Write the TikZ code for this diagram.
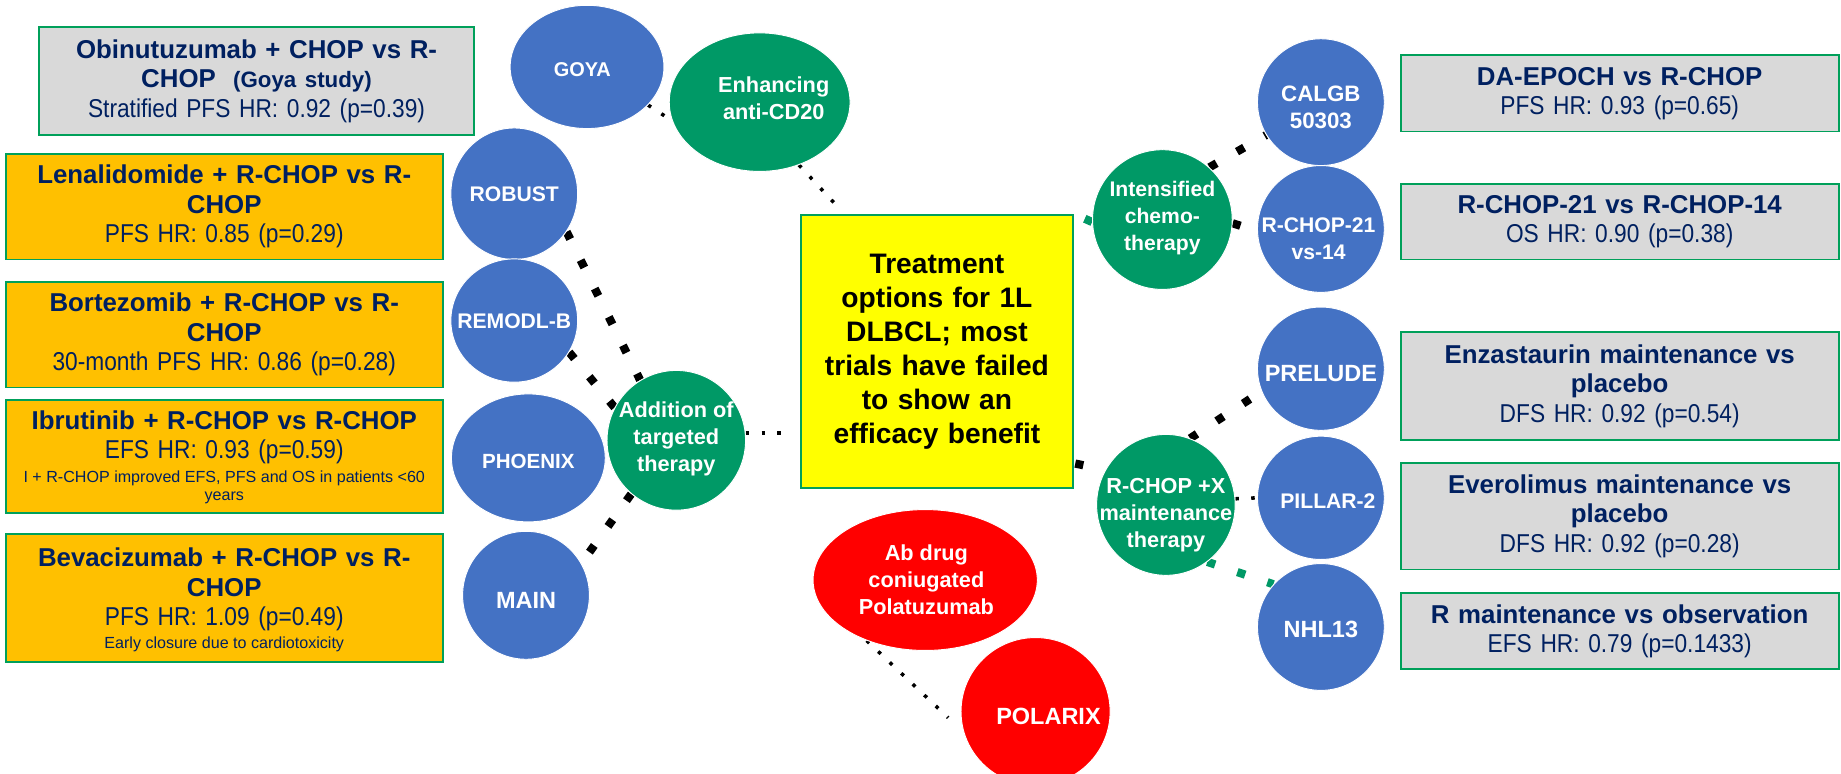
\documentclass[tikz,border=0pt]{standalone}
\usepackage{fontspec}
\setmainfont{Liberation Sans}
\newfontfamily\narrowfont{Liberation Sans}[FakeStretch=0.88,WordSpace=0.85]
\usetikzlibrary{shapes.geometric}
\pgfdeclarelayer{bg}
\pgfsetlayers{bg,main}
\definecolor{gbox}{RGB}{217,217,217}
\definecolor{obox}{RGB}{255,192,0}
\definecolor{bord}{RGB}{0,160,90}
\definecolor{navy}{RGB}{0,32,96}
\definecolor{cblue}{RGB}{68,114,196}
\definecolor{cgreen}{RGB}{0,153,102}
\definecolor{cred}{RGB}{255,0,0}
\definecolor{hubyellow}{RGB}{255,255,0}
\newcommand\boxtitle{\normalfont\bfseries\fontsize{22}{25}\selectfont}
\newcommand\boxsub{\narrowfont\mdseries\fontsize{22}{25}\selectfont}
\newcommand\cfs[1]{\bfseries\fontsize{#1}{23}\selectfont}
\begin{document}
\begin{tikzpicture}[x=1pt,y=-1pt,
 lbox/.style={rectangle, draw=bord, line width=1.6pt, inner sep=0pt, text width=366pt, align=center, text=navy,
   minimum width=372pt, font=\fontsize{22}{25}\selectfont},
 smalltext/.style={text=navy, align=center, inner sep=0pt, font=\fontsize{13.7}{16}\selectfont},
 bcirc/.style={ellipse, fill=cblue, draw=white, line width=0.8pt, inner sep=0pt},
 gell/.style={ellipse, fill=cgreen, draw=white, line width=0.8pt, inner sep=0pt},
 rell/.style={ellipse, fill=cred, draw=white, line width=0.8pt, inner sep=0pt},
 ctext/.style={text=white, align=center, inner sep=0pt},
 bigdots/.style={draw=black, line width=7pt, dash pattern=on 7pt off 20pt, line cap=butt},
 smalldots/.style={draw=black, line width=3pt, dash pattern=on 3pt off 10.5pt, line cap=butt},
 greendots/.style={bigdots, draw=cgreen}]
\begin{pgfonlayer}{bg}
\fill[white] (0,0) rectangle (1568,659.2);
\end{pgfonlayer}
\useasboundingbox (0,0) rectangle (1568,659.2);

% left boxes
\node[lbox, fill=gbox, minimum width=371pt, minimum height=92pt] (obin) at (218.5,69)
 {\boxtitle Obinutuzumab + CHOP vs R-\\CHOP\ \ {\fontsize{19}{25}\selectfont(Goya study)}\\\boxsub Stratified PFS HR: 0.92 (p=0.39)\par};
\node[lbox, fill=obox, minimum height=90pt] (lena) at (191,176)
 {\boxtitle Lenalidomide + R-CHOP vs R-\\CHOP\\\boxsub PFS HR: 0.85 (p=0.29)\par};
\node[lbox, fill=obox, minimum height=90pt] (bort) at (191,285)
 {\boxtitle Bortezomib + R-CHOP vs R-\\CHOP\\\boxsub 30-month PFS HR: 0.86 (p=0.28)\par};
\node[lbox, fill=obox, minimum height=96pt] (ibru) at (191,389) {};
\node[lbox, draw=none, minimum height=0pt] (ibrut) at (191,372.5)
 {\boxtitle Ibrutinib + R-CHOP vs R-CHOP\\\boxsub EFS HR: 0.93 (p=0.59)\par};
\node[smalltext] (ibrus) at (191,415) {I + R-CHOP improved EFS, PFS and OS in patients <60\\years};
\node[lbox, fill=obox, minimum height=109pt] (beva) at (191,509.5) {};
\node[lbox, draw=none, minimum height=0pt] (bevat) at (191,502)
 {\boxtitle Bevacizumab + R-CHOP vs R-\\CHOP\\\boxsub PFS HR: 1.09 (p=0.49)\par};
\node[smalltext] (bevas) at (191,549) {Early closure due to cardiotoxicity};

% right boxes
\node[lbox, fill=gbox, minimum width=373pt, minimum height=65pt] (daep) at (1379.5,79.5)
 {\boxtitle DA-EPOCH vs R-CHOP\\\boxsub PFS HR: 0.93 (p=0.65)\par};
\node[lbox, fill=gbox, minimum width=373pt, minimum height=64pt] (rcbox) at (1379.5,189)
 {\boxtitle R-CHOP-21 vs R-CHOP-14\\\boxsub OS HR: 0.90 (p=0.38)\par};
\node[lbox, fill=gbox, minimum width=373pt, minimum height=92pt] (enza) at (1379.5,329)
 {\boxtitle Enzastaurin maintenance vs\\placebo\\\boxsub DFS HR: 0.92 (p=0.54)\par};
\node[lbox, fill=gbox, minimum width=373pt, minimum height=91pt] (evero) at (1379.5,439.5)
 {\boxtitle Everolimus maintenance vs\\placebo\\\boxsub DFS HR: 0.92 (p=0.28)\par};
\node[lbox, fill=gbox, minimum width=373pt, minimum height=65pt] (rmain) at (1379.5,537.5)
 {\boxtitle R maintenance vs observation\\\boxsub EFS HR: 0.79 (p=0.1433)\par};

% hub
\node[rectangle, draw=bord, line width=1.6pt, fill=hubyellow, minimum width=232pt, minimum height=233pt,
 text width=225pt, align=center, inner sep=0pt, font=\bfseries\fontsize{24}{29}\selectfont] (hub) at (798,299.5)
 {Treatment\\options for 1L\\DLBCL; most\\trials have failed\\to show an\\efficacy benefit};

% ellipses
\node[bcirc, minimum width=131pt, minimum height=105pt] (goya) at (500,57) {};
\node[ctext, font=\cfs{17}] (goyat) at (496,59) {GOYA};
\node[gell, minimum width=154pt, minimum height=118pt] (enh) at (647,87) {};
\node[ctext, font=\cfs{18.5}] (enht) at (659,84) {Enhancing\\anti-CD20};
\node[bcirc, minimum width=108pt, minimum height=112pt] (robust) at (438,165) {};
\node[ctext, font=\cfs{18}] (robustt) at (438,165) {ROBUST};
\node[bcirc, minimum width=108pt, minimum height=105pt] (remodl) at (438,273) {};
\node[ctext, font=\cfs{18}] (remodlt) at (438,274) {REMODL-B};
\node[bcirc, minimum width=131pt, minimum height=109pt] (phoenix) at (450,390) {};
\node[ctext, font=\cfs{17.5}] (phoenixt) at (450,393) {PHOENIX};
\node[bcirc, minimum width=108pt, minimum height=109pt] (main) at (448,507) {};
\node[ctext, font=\cfs{20}] (maint) at (448,511) {MAIN};
\node[gell, minimum width=118pt, minimum height=119pt] (addition) at (576,375) {};
\node[ctext, font=\cfs{18.5}] (additiont) at (576,374) {Addition of\\targeted\\therapy};
\node[gell, minimum width=119pt, minimum height=119pt] (intens) at (990,187) {};
\node[ctext, font=\cfs{18}] (intenst) at (990,186) {Intensified\\chemo-\\therapy};
\node[bcirc, minimum width=108pt, minimum height=108pt] (calgb) at (1125,87) {};
\node[ctext, font=\cfs{19}] (calgbt) at (1125,91) {CALGB\\50303};
\node[bcirc, minimum width=108pt, minimum height=108pt] (rchop21) at (1125,195) {};
\node[ctext, font=\cfs{18}] (rchop21t) at (1123,203) {R-CHOP-21\\vs-14};
\node[bcirc, minimum width=108pt, minimum height=105pt] (prelude) at (1125,314) {};
\node[ctext, font=\cfs{20}] (preludet) at (1125,318) {PRELUDE};
\node[bcirc, minimum width=108pt, minimum height=105pt] (pillar) at (1125,424) {};
\node[ctext, font=\cfs{18}] (pillart) at (1131,427) {PILLAR-2};
\node[bcirc, minimum width=108pt, minimum height=108pt] (nhl) at (1125,534) {};
\node[ctext, font=\cfs{20}] (nhlt) at (1125,536) {NHL13};
\node[gell, minimum width=118pt, minimum height=120pt] (rchopx) at (993,430) {};
\node[ctext, font=\cfs{18.5}] (rchopxt) at (993,439) {R-CHOP +X\\maintenance\\therapy};
\node[rell, minimum width=191pt, minimum height=120pt] (adc) at (788,494) {};
\node[ctext, font=\cfs{18.5}] (adct) at (789,494) {Ab drug\\coniugated\\Polatuzumab};
\node[rell, minimum width=127pt, minimum height=126pt] (polarix) at (882,606) {};
\node[ctext, font=\cfs{20}] (polarixt) at (893,610) {POLARIX};

% connectors
\begin{pgfonlayer}{bg}
\draw[smalldots] (goya.-32) -- (enh.192);
\draw[smalldots, shorten >=6pt] (enh.-58) -- ([xshift=38pt]hub.north west);
\draw[bigdots] (robust.-36) -- (addition.121);
\draw[bigdots] (remodl.-30) -- (addition.152);
\draw[bigdots] (addition.230) -- (main.30);
\draw[smalldots, shorten >=14pt] (addition.6) -- (addition.6 -| hub.west);
\draw[greendots, dash phase=17pt] (hub.north east) -- (intens.182);
\draw[bigdots] ([xshift=1pt,yshift=22pt]hub.south east) -- (rchopx.150);
\draw[bigdots] (intens.48) -- (calgb.211);
\draw[bigdots] (intens.-3) -- (rchop21.182);
\draw[bigdots] (rchopx.70) -- (prelude.201);
\draw[smalldots] (rchopx.5) -- (pillar.180);
\draw[greendots] (rchopx.-54) -- (nhl.138);
\draw[smalldots, shorten >=18pt] (adc.226) -- (polarix.196);
\end{pgfonlayer}
\end{tikzpicture}
\end{document}
